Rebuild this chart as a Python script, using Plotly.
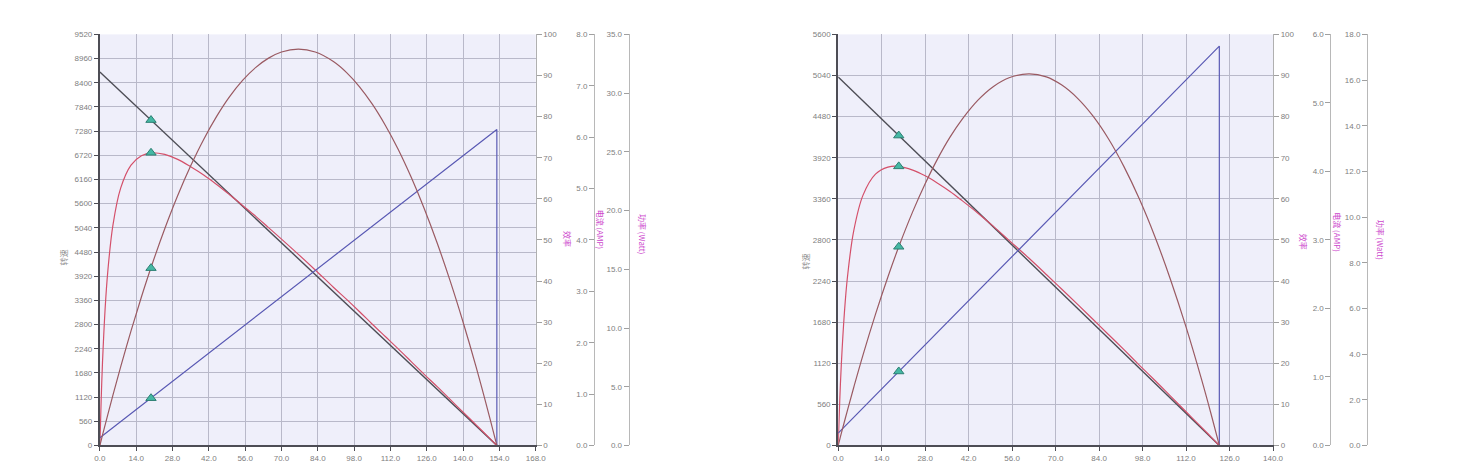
import plotly.graph_objects as go

# ---------------- data: left chart (24 V motor) ----------------
L_torque = [0, 0.5, 1, 2, 3, 5, 8, 12, 16, 20, 25, 30, 35, 40, 45, 50, 55, 60, 65, 70,
            76.5, 83, 90, 95, 100, 105, 110, 115, 120, 125, 130, 135, 140, 145, 150, 153]
L_eff = [0, 11.2, 20.1, 33.1, 42.0, 53.5, 62.6, 68.2, 70.5, 71.2, 70.8, 69.6, 67.8, 65.8, 63.5,
         61.0, 58.4, 55.8, 53.0, 50.2, 46.5, 42.7, 38.5, 35.6, 32.6, 29.5, 26.5, 23.5, 20.4,
         17.3, 14.3, 11.2, 8.1, 5.0, 1.9, 0]
L_power = [0, 0.44, 0.88, 1.74, 2.59, 4.27, 6.69, 9.76, 12.64, 15.34, 18.45, 21.28, 23.81,
           26.06, 28.02, 29.70, 31.08, 32.17, 32.98, 33.50, 33.74, 33.50, 32.69, 31.77, 30.56,
           29.06, 27.27, 25.20, 22.83, 20.18, 17.24, 14.01, 10.49, 6.69, 2.59, 0]
L_speed_torque = [0, 153]
L_speed = [8650, 0]
L_cur_torque = [0, 153, 153]
L_current = [0.15, 6.15, 0]
L_mark_torque = 19.7
L_mark_speed = 7536
L_mark_eff = 71.2
L_mark_power = 15.1
L_mark_current = 0.92

# ---------------- data: right chart (12 V motor) ----------------
R_torque = [0, 0.5, 1, 2, 3, 5, 8, 12, 16, 19.5, 24, 28, 32, 36, 40, 45, 50, 55, 61.35, 67,
            72, 77, 82, 87, 92, 97, 102, 107, 112, 117, 120, 122.7]
R_eff = [0, 10.9, 19.6, 32.3, 41.1, 52.2, 60.9, 66.0, 67.7, 67.9, 67.0, 65.6, 63.8, 61.8,
         59.5, 56.5, 53.3, 49.9, 45.6, 41.6, 38.0, 34.4, 30.7, 27.0, 23.3, 19.5, 15.8, 12.0,
         8.2, 4.4, 2.1, 0]
R_power = [0, 0.26, 0.53, 1.04, 1.55, 2.54, 3.97, 5.74, 7.38, 8.70, 10.24, 11.46, 12.55,
           13.50, 14.30, 15.12, 15.72, 16.10, 16.27, 16.14, 15.78, 15.21, 14.43, 13.43, 12.21,
           10.78, 9.13, 7.26, 5.18, 2.88, 1.40, 0]
R_speed_torque = [0, 122.7]
R_speed = [5020, 0]
R_cur_torque = [0, 122.7, 122.7]
R_current = [0.18, 5.83, 0]
R_mark_torque = 19.5
R_mark_speed = 4222
R_mark_eff = 67.9
R_mark_power = 8.70
R_mark_current = 1.08

# axis ranges / ticks
L_x_max, R_x_max = 168, 140
L_speed_max, R_speed_max = 9520, 5600
L_cur_max, R_cur_max = 8.0, 6.0
L_pow_max, R_pow_max = 35.0, 18.0
L_pow_step, R_pow_step = 5.0, 2.0

# ---------------- styling ----------------
W, H = 1459, 475
C_SPEED = "#4d4d55"
C_CUR = "#5a5ab4"
C_EFF = "#d4506a"
C_POW = "#9a5a62"
C_GRID = "#b9b9c9"
C_BG = "#efeffa"
C_TICK = "#808080"
C_MAG = "#cc44cc"
TF = dict(family="Liberation Sans, Arial, sans-serif", size=8, color=C_TICK)

y0, y1 = 1 - 450 / H, 1 - 31 / H

def px(v):
    return v / W

fig = go.Figure()

def add_chart(n, xdom, cur_pos, pow_pos, torque, eff, power, sp_t, sp, cu_t, cu,
              mk, mk_sp, mk_eff, mk_pow, mk_cur, xmax, smax, cmax, pmax, pstep):
    xa = "x" if n == 0 else "x2"
    ids = [1 + 4 * n, 2 + 4 * n, 3 + 4 * n, 4 + 4 * n]
    yn = ["y" if i == 1 else f"y{i}" for i in ids]
    fig.add_trace(go.Scatter(x=sp_t, y=sp, xaxis=xa, yaxis=yn[0], mode="lines",
                             line=dict(color=C_SPEED, width=1.4), showlegend=False))
    fig.add_trace(go.Scatter(x=torque, y=eff, xaxis=xa, yaxis=yn[1], mode="lines",
                             line=dict(color=C_EFF, width=1.2, shape="spline", smoothing=1.0),
                             showlegend=False))
    fig.add_trace(go.Scatter(x=cu_t, y=cu, xaxis=xa, yaxis=yn[2], mode="lines",
                             line=dict(color=C_CUR, width=1.2), showlegend=False))
    fig.add_trace(go.Scatter(x=torque, y=power, xaxis=xa, yaxis=yn[3], mode="lines",
                             line=dict(color=C_POW, width=1.2, shape="spline", smoothing=1.0),
                             showlegend=False))
    mk_style = dict(symbol="triangle-up", size=9, color="#45b8a4",
                    line=dict(color="#2c7f72", width=1))
    for val, yy in zip([mk_sp, mk_eff, mk_cur, mk_pow], yn):
        fig.add_trace(go.Scatter(x=[mk], y=[val], xaxis=xa, yaxis=yy, mode="markers",
                                 marker=mk_style, showlegend=False))

    xkey = "xaxis" if n == 0 else "xaxis2"
    fig.layout[xkey] = dict(domain=xdom, range=[0, xmax], dtick=14, tick0=0,
                            tickformat=".1f", showgrid=True, gridcolor=C_GRID, gridwidth=1,
                            showline=True, linecolor=C_SPEED, linewidth=2,
                            ticks="outside", ticklen=4, tickcolor=C_SPEED,
                            tickfont=TF, zeroline=False, anchor=yn[0])
    k = ["yaxis" if i == 1 else f"yaxis{i}" for i in ids]
    fig.layout[k[0]] = dict(domain=[y0, y1], range=[0, smax], dtick=560, tick0=0,
                            showgrid=True, gridcolor=C_GRID, showline=True,
                            linecolor=C_SPEED, linewidth=2, ticks="outside", ticklen=4,
                            tickcolor=C_SPEED, tickfont=TF, zeroline=False, anchor=xa)
    fig.layout[k[1]] = dict(overlaying=yn[0], side="right", anchor=xa, range=[0, 100],
                            dtick=10, showgrid=False, showline=True, linecolor="#b0b0b0",
                            linewidth=1, ticks="outside", ticklen=5, tickcolor="#a0a0a0",
                            tickfont=TF, zeroline=False)
    fig.layout[k[2]] = dict(overlaying=yn[0], side="left", anchor="free", position=cur_pos,
                            range=[0, cmax], dtick=1, tickformat=".1f", showgrid=False,
                            showline=True, linecolor="#b8b8b8", linewidth=1,
                            ticks="outside", ticklen=5, tickcolor="#a0a0a0",
                            tickfont=TF, zeroline=False)
    fig.layout[k[3]] = dict(overlaying=yn[0], side="left", anchor="free", position=pow_pos,
                            range=[0, pmax], dtick=pstep, tickformat=".1f", showgrid=False,
                            showline=True, linecolor="#b8b8b8", linewidth=1,
                            ticks="outside", ticklen=5, tickcolor="#a0a0a0",
                            tickfont=TF, zeroline=False)

add_chart(0, [px(95), px(536)], px(595), px(630), L_torque, L_eff, L_power,
          L_speed_torque, L_speed, L_cur_torque, L_current,
          L_mark_torque, L_mark_speed, L_mark_eff, L_mark_power, L_mark_current,
          L_x_max, L_speed_max, L_cur_max, L_pow_max, L_pow_step)
add_chart(1, [px(842), px(1282)], px(1340), px(1377), R_torque, R_eff, R_power,
          R_speed_torque, R_speed, R_cur_torque, R_current,
          R_mark_torque, R_mark_speed, R_mark_eff, R_mark_power, R_mark_current,
          R_x_max, R_speed_max, R_cur_max, R_pow_max, R_pow_step)

# axis titles (as annotations)
CJK = "Noto Sans CJK SC"
def title(x, y, text, color, angle):
    fig.add_annotation(x=px(x), y=1 - y / H, xref="paper", yref="paper", text=text,
                       showarrow=False, textangle=angle, xanchor="center", yanchor="middle",
                       font=dict(family=CJK, size=8, color=color))

title(58, 258, "转速", "#909090", -90)
title(808, 263, "转速", "#909090", -90)
title(568, 240, "效率", C_MAG, 90)
title(1313, 242, "效率", C_MAG, 90)
title(601, 230, "电流 (AMP)", C_MAG, 90)
title(1347, 233, "电流 (AMP)", C_MAG, 90)
title(644, 235, "功率 (Watt)", C_MAG, 90)
title(1391, 240, "功率 (Watt)", C_MAG, 90)

fig.update_layout(width=W, height=H, margin=dict(l=0, r=0, t=0, b=0),
                  paper_bgcolor="white", plot_bgcolor=C_BG, showlegend=False)

fig.write_html("out.html", config={"displayModeBar": False},
               post_script="document.body.style.margin='0';"
                           "document.body.style.overflow='hidden';"
                           "document.documentElement.style.overflow='hidden';")
